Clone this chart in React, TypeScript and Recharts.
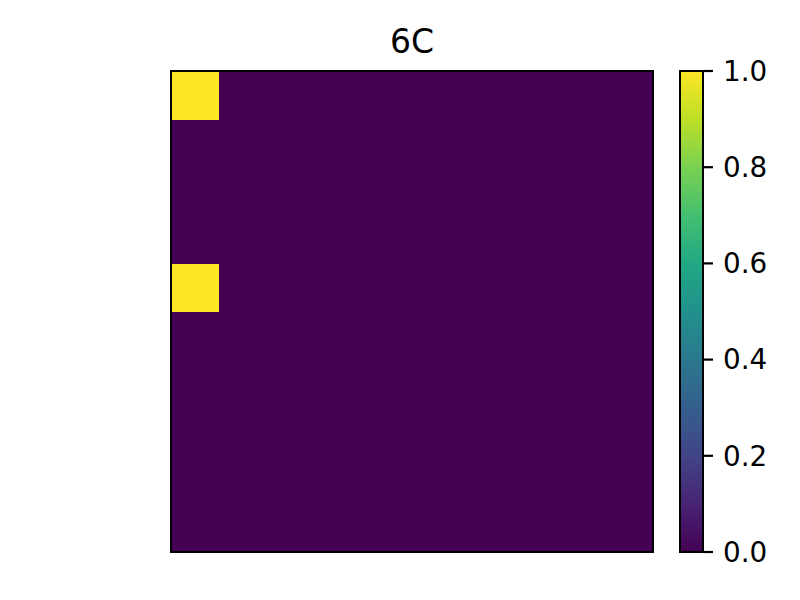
import React from "react";
import { BarChart, Bar, XAxis, YAxis, Cell } from "recharts";

// 10x10 grid, row 0 at the top
const columns = ["c0", "c1", "c2", "c3", "c4", "c5", "c6", "c7", "c8", "c9"];
const rows = ["r0", "r1", "r2", "r3", "r4", "r5", "r6", "r7", "r8", "r9"];
const values = [
  [1, 0, 0, 0, 0, 0, 0, 0, 0, 0],
  [0, 0, 0, 0, 0, 0, 0, 0, 0, 0],
  [0, 0, 0, 0, 0, 0, 0, 0, 0, 0],
  [0, 0, 0, 0, 0, 0, 0, 0, 0, 0],
  [1, 0, 0, 0, 0, 0, 0, 0, 0, 0],
  [0, 0, 0, 0, 0, 0, 0, 0, 0, 0],
  [0, 0, 0, 0, 0, 0, 0, 0, 0, 0],
  [0, 0, 0, 0, 0, 0, 0, 0, 0, 0],
  [0, 0, 0, 0, 0, 0, 0, 0, 0, 0],
  [0, 0, 0, 0, 0, 0, 0, 0, 0, 0],
];
const colorbarTicks = [0, 0.2, 0.4, 0.6, 0.8, 1.0];
const title = "6C";

// viridis, sampled every 0.1
const VIRIDIS = [
  "#440154", "#482475", "#414487", "#355f8d", "#2a788e", "#21918c",
  "#22a884", "#44bf70", "#7ad151", "#bddf26", "#fde725",
];

const viridis = (v: number) => VIRIDIS[Math.round(Math.max(0, Math.min(1, v)) * 10)];

const FONT = "'DejaVu Sans', sans-serif";

export default function App() {
  // every cell is a stacked unit-height bar
  const data = columns.map((col) => {
    const entry: Record<string, string | number> = { col };
    rows.forEach((r) => (entry[r] = 1));
    return entry;
  });
  const cbData = [{ name: "cb", v: 1 }];
  const bottomUp = rows.map((r, i) => ({ r, i })).reverse();

  return (
    <div style={{ position: "absolute", left: 0, top: 0, width: 800, height: 600, background: "#fff", fontFamily: FONT }}>
      <div
        style={{
          position: "absolute", left: 312, top: 25, width: 200, textAlign: "center",
          fontSize: 33, lineHeight: "33px", color: "#000",
        }}
      >
        {title}
      </div>

      <div style={{ position: "absolute", left: 0, top: 0 }}>
        <BarChart
          width={800}
          height={600}
          data={data}
          margin={{ top: 71, left: 171, right: 147, bottom: 48 }}
          barCategoryGap={0}
          barGap={0}
        >
          <XAxis dataKey="col" hide />
          <YAxis type="number" domain={[0, 10]} hide />
          {bottomUp.map(({ r, i }) => (
            <Bar key={r} dataKey={r} stackId="grid" isAnimationActive={false}>
              {columns.map((c, j) => (
                <Cell
                  key={c}
                  fill={viridis(values[i][j])}
                  stroke={viridis(values[i][j])}
                  strokeWidth={1}
                  shapeRendering="crispEdges"
                />
              ))}
            </Bar>
          ))}
        </BarChart>
      </div>

      <div style={{ position: "absolute", left: 0, top: 0 }}>
        <BarChart
          width={800}
          height={600}
          data={cbData}
          margin={{ top: 71, left: 680, right: 7, bottom: 48 }}
          barCategoryGap={0}
        >
          <defs>
            <linearGradient id="viridisGrad" x1="0" y1="1" x2="0" y2="0">
              {VIRIDIS.map((c, k) => (
                <stop key={k} offset={`${k * 10}%`} stopColor={c} />
              ))}
            </linearGradient>
          </defs>
          <XAxis dataKey="name" hide />
          <YAxis
            orientation="right"
            type="number"
            domain={[0, 1]}
            ticks={colorbarTicks}
            interval={0}
            width={90}
            axisLine={false}
            tickSize={10}
            tickMargin={10}
            tickLine={{ stroke: "#000", strokeWidth: 2.2 }}
            tick={{ fill: "#000", fontSize: 27.8, fontFamily: FONT }}
            tickFormatter={(v: number) => v.toFixed(1)}
          />
          <Bar dataKey="v" fill="url(#viridisGrad)" isAnimationActive={false} />
        </BarChart>
      </div>

      {/* axes frame */}
      <div style={{ position: "absolute", left: 170, top: 70, width: 484, height: 483, boxSizing: "border-box", border: "2px solid #000" }} />
      {/* colorbar frame */}
      <div style={{ position: "absolute", left: 679, top: 70, width: 25, height: 483, boxSizing: "border-box", border: "2px solid #000" }} />
    </div>
  );
}
